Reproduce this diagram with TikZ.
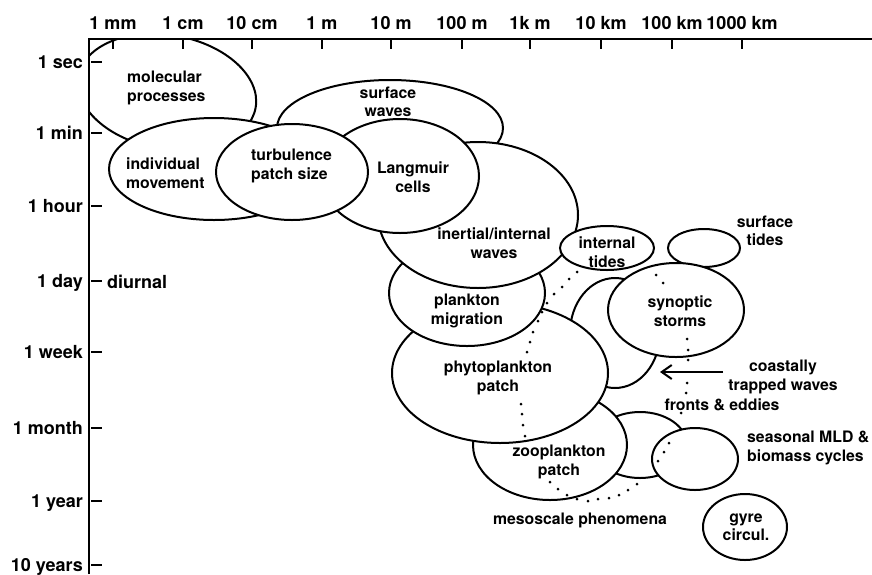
\documentclass[tikz,border=0pt]{standalone}
\usepackage{fontspec}
\setmainfont{TeX Gyre Heros}
\usetikzlibrary{arrows.meta}
\tikzset{
  blob/.style={draw, fill=white, line width=2pt},
  lbl/.style={font=\fontsize{15.8}{18.5}\selectfont\bfseries, align=center, inner sep=0pt},
  axlbl/.style={font=\fontsize{18}{21}\selectfont\bfseries, inner sep=0pt},
  axis/.style={line width=2pt},
  tick/.style={line width=2pt},
  pointer/.style={line width=2pt, -{Straight Barb[length=10pt, width=14pt]}}
}
\begin{document}
\begin{tikzpicture}[x=1pt, y=-1pt]
  \useasboundingbox (0,0) rectangle (872,574);
  \begin{scope}
    \clip (89,39) rectangle (872,574);
    \path[blob, rotate around={-10:(167,92)}] (167,92) ellipse [x radius=90, y radius=57];
  \end{scope}
  \path[blob] (390,128) ellipse [x radius=113, y radius=48];
  \path[blob] (214,169) ellipse [x radius=105, y radius=51];
  \path[blob] (640,445) ellipse [x radius=47, y radius=33];
  \path[blob] (550,445) ellipse [x radius=77, y radius=55];
  \path[blob] (615,333) ellipse [x radius=45, y radius=55];
  \path[blob] (500,373) ellipse [x radius=108, y radius=70];
  \path[blob] (467,293) ellipse [x radius=78, y radius=53];
  \path[blob] (478,215) ellipse [x radius=100, y radius=73];
  \path[blob] (400,176) ellipse [x radius=79, y radius=57];
  \path[blob] (292,172) ellipse [x radius=76, y radius=48];
  \path[blob] (607,248) ellipse [x radius=47, y radius=22];
  \path[blob] (704,248) ellipse [x radius=36, y radius=19];
  \path[blob] (676,310) ellipse [x radius=68, y radius=47];
  \path[blob] (695,459) ellipse [x radius=43, y radius=31];
  \path[blob] (745,527) ellipse [x radius=42, y radius=33];
  % mesoscale envelope
  \foreach \p in {(577,272),(569,279),(562,287),(554,294),(547,303),(542,312),(538,321),(533,332),(530,342),(527,352),
      (521,404),(522,414),(523,425),(525,436),
      (550,482),(558,489),(567,495),(577,499),(588,501),(598,499),(609,498),(619,495),(628,490),(637,484),
      (658,461),(664,452),(669,443),
      (681,413),(686,393),(687,383),(688,360),(688,350),(687,339),
      (656,275),(663,283)}
    \fill \p circle (1.5);
  \node[lbl, anchor=west, align=left] (molec) at (127,88) {molecular\\processes};
  \node[lbl] (swaves) at (388,102) {surface\\waves};
  \node[lbl, anchor=west, align=left] (indiv) at (126,173) {individual\\movement};
  \node[lbl, anchor=west, align=left] (turb) at (251,166) {turbulence\\patch size};
  \node[lbl] (langm) at (413,177) {Langmuir\\cells};
  \node[lbl] (inert) at (494,243) {inertial/internal\\waves};
  \node[lbl] (itides) at (607,252) {internal\\tides};
  \node[lbl] (stides) at (765,231) {surface\\tides};
  \node[lbl] (migr) at (467,311) {plankton\\migration};
  \node[lbl] (phyto) at (498,378) {phytoplankton\\patch};
  \node[lbl] (zoo) at (559,462) {zooplankton\\patch};
  \node[lbl] (synop) at (680,311) {synoptic\\storms};
  \node[lbl] (coast) at (783,377) {coastally\\trapped waves};
  \node[lbl] (fronts) at (722,405) {fronts \& eddies};
  \node[lbl, anchor=west, align=left] (seas) at (747,448) {seasonal MLD \&\\biomass cycles};
  \node[lbl] (meso) at (580,520) {mesoscale phenomena};
  \node[lbl] (gyre) at (746,527) {gyre\\circul.};
  \coordinate (cttip) at (660,372);
  \draw[pointer] ([xshift=-5pt]coast.west |- cttip) -- (cttip);
  % axes
  \draw[axis] (89,574) -- (89,39) -- (872,39);
  \foreach \x/\t [count=\i] in {113/1 mm, 183/1 cm, 252/10 cm, 322/1 m, 391/10 m, 462/100 m, 530/1k m, 601/10 km, 672/100 km, 742/1000 km} {
    \draw[tick] (\x,39) -- (\x,49);
    \node[axlbl, anchor=base] (len\i) at (\x,29) {\t};
  }
  \foreach \y/\t [count=\i] in {62/1 sec, 133/1 min, 206/1 hour, 281/1 day, 352/1 week, 428/1 month, 501/1 year, 565/10 years} {
    \draw[tick] (91,\y) -- (102,\y);
    \node[axlbl, anchor=base east] (time\i) at (83,{\y+6}) {\t};
  }
  \node[axlbl, anchor=base west] (diurnal) at (107,288) {diurnal};
\end{tikzpicture}
\end{document}
